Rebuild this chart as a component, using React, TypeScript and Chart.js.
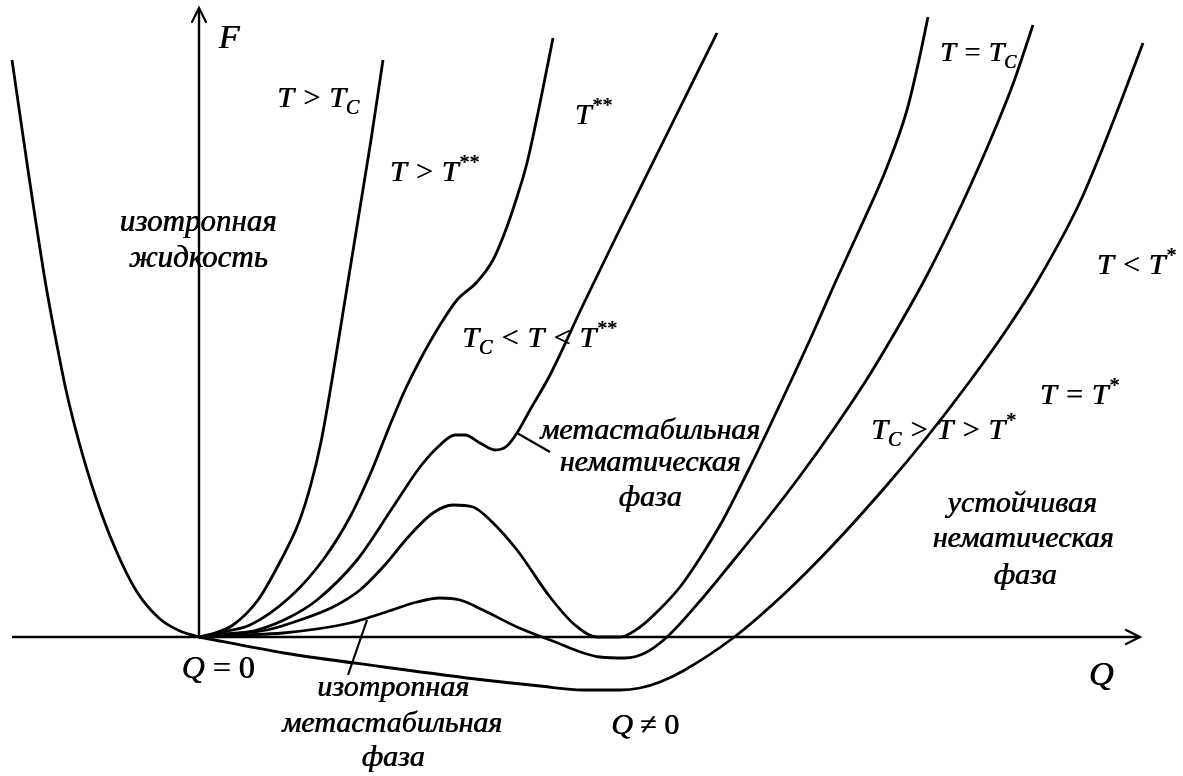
import React, { useEffect, useRef } from 'react';
import { Chart, registerables } from 'chart.js';

Chart.register(...registerables);

// Order parameter Q and free energy F (origin at Q = 0, F = 0)
const leftQ = [-187, -171, -154, -144, -133, -120, -104, -84, -62, -39, -19, 0];
const leftF = [577, 467, 357, 302, 247, 195, 142, 89, 45, 18, 6, 0];

// T > Tc
const aQ = [0, 16, 34, 59, 82, 100, 112, 122, 133, 146, 159, 172, 184];
const aF = [0, 4, 12, 37, 77, 115, 153, 195, 257, 337, 417, 497, 577];

// T = T**
const bQ = [0, 23, 51, 91, 124, 151, 173, 191, 206, 221, 241, 258, 278, 294, 306, 318, 328, 341, 354];
const bF = [0, 5, 12, 40, 77, 120, 167, 212, 247, 277, 312, 337, 355, 377, 405, 440, 474, 534, 599];

// Tc < T < T**
const cQ = [0, 26, 58, 91, 118, 158, 194, 221, 241, 256, 266, 281, 296, 308, 318, 331, 351, 384, 418, 468, 518];
const cF = [0, 3, 7, 20, 37, 77, 130, 170, 192, 202, 202, 194, 187, 191, 204, 227, 262, 332, 402, 503, 604];

// T = Tc
const dQ = [0, 31, 68, 101, 134, 161, 184, 211, 234, 254, 274, 291, 318, 351, 376, 398, 421, 441, 461, 481, 501, 524, 548, 568, 591, 614, 636, 658, 688, 708, 720, 729];
const dF = [0, 3, 7, 17, 30, 47, 70, 102, 124, 132, 130, 117, 87, 40, 12, 0, 0, 10, 28, 50, 79, 117, 164, 205, 254, 304, 354, 402, 470, 527, 577, 620];

// Tc > T > T*
const eQ = [0, 41, 84, 151, 184, 218, 241, 261, 284, 318, 351, 401, 426, 446, 468, 501, 534, 568, 601, 634, 668, 698, 726, 754, 788, 814, 834];
const eF = [0, 2, 4, 14, 24, 35, 39, 37, 27, 10, -3, -20, -21, -16, 0, 36, 76, 118, 161, 207, 258, 308, 358, 414, 489, 553, 612];

// T < T*
const fQ = [0, 85, 185, 285, 341, 384, 421, 441, 461, 484, 534, 584, 634, 688, 728, 771, 808, 838, 881, 914, 944];
const fF = [0, -16, -30, -43, -49, -53, -53, -51, -45, -34, -1, 42, 92, 152, 200, 256, 308, 355, 435, 515, 594];

// Axes extents
const axisQ = [-187, 941];
const axisF = [0, 629];

// Pointer (leader) lines
const pointer1Q = [168, 149];
const pointer1F = [17, -38];
const pointer2Q = [318, 351];
const pointer2F = [204, 185];

// Text labels: anchor (Q, F) and rich text parts
type Part = { t: string; sub?: boolean; sup?: boolean; up?: boolean };
const labelQ = [30, 119, -1, -1, 235, 394, 340, 451, 451, 451, 779, 937, 880, 744, 823, 824, 826, 902, 446, 19, 194, 193, 194];
const labelF = [599, 539, 415, 379, 465, 522, 299, 207, 175, 140, 584, 372, 242, 207, 134, 99, 62, -38, -88, -31, -50, -86, -120];
const labelParts: Part[][] = [
  [{ t: 'F' }],
  [{ t: 'T > T' }, { t: 'C', sub: true }],
  [{ t: 'изотропная' }],
  [{ t: 'жидкость' }],
  [{ t: 'T > T' }, { t: '**', sup: true }],
  [{ t: 'T' }, { t: '**', sup: true }],
  [{ t: 'T' }, { t: 'C', sub: true }, { t: ' < T < T' }, { t: '**', sup: true }],
  [{ t: 'метастабильная' }],
  [{ t: 'нематическая' }],
  [{ t: 'фаза' }],
  [{ t: 'T = T' }, { t: 'C', sub: true }],
  [{ t: 'T < T' }, { t: '*', sup: true }],
  [{ t: 'T = T' }, { t: '*', sup: true }],
  [{ t: 'T' }, { t: 'C', sub: true }, { t: ' > T > T' }, { t: '*', sup: true }],
  [{ t: 'устойчивая' }],
  [{ t: 'нематическая' }],
  [{ t: 'фаза' }],
  [{ t: 'Q' }],
  [{ t: 'Q ' }, { t: '≠ 0', up: true }],
  [{ t: 'Q ' }, { t: '= 0', up: true }],
  [{ t: 'изотропная' }],
  [{ t: 'метастабильная' }],
  [{ t: 'фаза' }],
];
const labelSize = [34, 30, 31, 31, 30, 30, 30, 30, 30, 30, 28, 30, 30, 30, 30, 30, 30, 34, 30, 32, 30, 30, 30];

const FAMILY = '"Liberation Serif", "Times New Roman", "DejaVu Serif", serif';

function pts(q: number[], f: number[]) {
  return q.map((x, i) => ({ x, y: f[i] }));
}

function drawRich(ctx: CanvasRenderingContext2D, cx: number, cy: number, parts: Part[], size: number) {
  const fontFor = (p: Part) => {
    const s = p.sub || p.sup ? Math.round(size * 0.66) : size;
    return `${p.up ? '' : 'italic '}${s}px ${FAMILY}`;
  };
  let total = 0;
  const widths = parts.map((p) => {
    ctx.font = fontFor(p);
    const w = ctx.measureText(p.t).width;
    total += w;
    return w;
  });
  let xx = cx - total / 2;
  ctx.textAlign = 'left';
  ctx.textBaseline = 'alphabetic';
  ctx.fillStyle = '#000';
  const base = cy + size * 0.3;
  parts.forEach((p, i) => {
    ctx.font = fontFor(p);
    const dy = p.sub ? size * 0.22 : p.sup ? -size * 0.4 : 0;
    ctx.fillText(p.t, xx, base + dy);
    ctx.fillText(p.t, xx + 0.7, base + dy);
    xx += widths[i];
  });
}

const overlayPlugin = {
  id: 'overlay',
  afterDatasetsDraw(chart: any) {
    const { ctx, scales } = chart;
    const xs = scales.x;
    const ys = scales.y;
    ctx.save();
    ctx.strokeStyle = '#000';
    ctx.lineWidth = 2.2;
    ctx.lineCap = 'round';
    ctx.lineJoin = 'miter';
    // arrow heads
    const ax = xs.getPixelForValue(axisQ[1]);
    const ay = ys.getPixelForValue(0);
    ctx.beginPath();
    ctx.moveTo(ax - 14, ay - 7);
    ctx.lineTo(ax, ay);
    ctx.lineTo(ax - 14, ay + 7);
    ctx.stroke();
    const bx = xs.getPixelForValue(0);
    const by = ys.getPixelForValue(axisF[1]);
    ctx.beginPath();
    ctx.moveTo(bx - 7, by + 14);
    ctx.lineTo(bx, by);
    ctx.lineTo(bx + 7, by + 14);
    ctx.stroke();
    // labels
    labelParts.forEach((parts, i) => {
      drawRich(ctx, xs.getPixelForValue(labelQ[i]), ys.getPixelForValue(labelF[i]), parts, labelSize[i]);
    });
    ctx.restore();
  },
};

export default function App() {
  const ref = useRef<HTMLCanvasElement | null>(null);
  useEffect(() => {
    document.body.style.margin = '0';
    document.body.style.background = '#fff';
    const canvas = ref.current;
    if (!canvas) return;
    const curve = (q: number[], f: number[]) => ({
      data: pts(q, f),
      borderColor: '#000',
      borderWidth: 2.8,
      pointRadius: 0,
      cubicInterpolationMode: 'monotone',
      fill: false,
    });
    const straight = (q: number[], f: number[], w: number) => ({
      data: pts(q, f),
      borderColor: '#000',
      borderWidth: w,
      pointRadius: 0,
      tension: 0,
      fill: false,
    });
    const chart = new Chart(canvas, {
      type: 'line',
      data: {
        datasets: [
          straight(axisQ, [0, 0], 2.4),
          straight([0, 0], axisF, 2.4),
          curve(leftQ, leftF),
          curve(aQ, aF),
          curve(bQ, bF),
          curve(cQ, cF),
          curve(dQ, dF),
          curve(eQ, eF),
          curve(fQ, fF),
          straight(pointer1Q, pointer1F, 2.2),
          straight(pointer2Q, pointer2F, 2.2),
        ] as any,
      },
      options: {
        animation: false,
        responsive: false,
        events: [],
        layout: { padding: 0 },
        plugins: { legend: { display: false }, tooltip: { enabled: false } },
        scales: {
          x: { type: 'linear', min: -199, max: 984, display: false },
          y: { type: 'linear', min: -139, max: 637, display: false },
        },
      },
      plugins: [overlayPlugin],
    });
    return () => chart.destroy();
  }, []);
  return (
    <div style={{ width: 1183, height: 776, background: '#fff' }}>
      <canvas ref={ref} width={1183} height={776} style={{ display: 'block' }} />
    </div>
  );
}
